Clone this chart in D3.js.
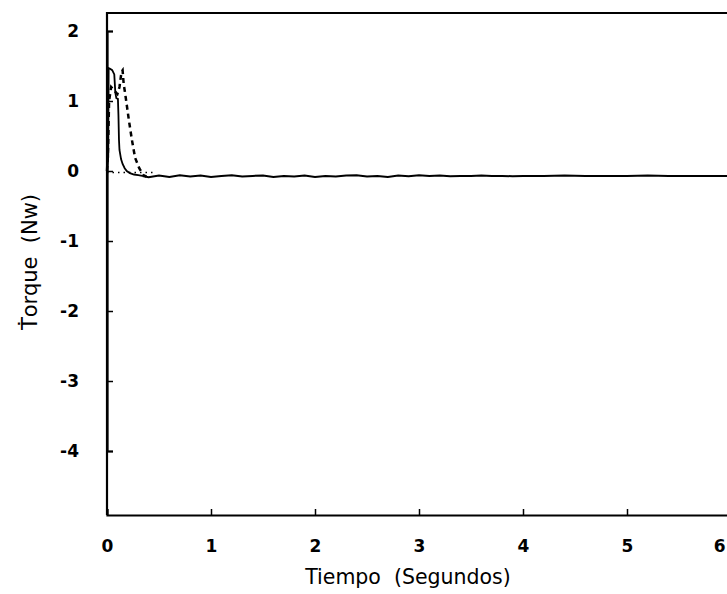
<!DOCTYPE html>
<html><head><meta charset="utf-8">
<script src="https://cdn.jsdelivr.net/npm/d3@7"></script>
<style>body{margin:0;background:#fff}</style>
</head><body>
<svg id="c" width="727" height="594"></svg>
<script>
const xTicks = [0,1,2,3,4,5,6];
const yTicks = [-4,-3,-2,-1,0,1,2];
const xTitle = "Tiempo  (Segundos)";
const yTitle = "Ṫorque  (Nw)";

// solid response (fast)
const solidT = [0,0.012,0.016,0.03,0.05,0.07,0.08,0.09,0.105,0.11,0.115,0.12,0.135,0.15,0.17,0.19,0.22,0.26,0.3,0.34];
const solidV = [0,0.2,1.47,1.46,1.44,1.38,1.12,1.04,1.03,0.8,0.45,0.3,0.17,0.1,0.04,0.0,-0.03,-0.05,-0.06,-0.07];

// dashed response (slower)
const dashT = [0,0.01,0.02,0.04,0.07,0.1,0.12,0.14,0.15,0.16,0.18,0.21,0.24,0.27,0.31,0.35,0.38];
const dashV = [0,0.3,1.0,1.2,1.15,1.1,1.2,1.42,1.44,1.25,1.05,0.73,0.44,0.19,0.04,-0.06,-0.08];

// dotted zero reference
const dotT = [0,0.45];
const dotV = [-0.02,-0.02];

// steady-state noisy trace
const steadyT = [0.34,0.4,0.5,0.6,0.7,0.8,0.9,1.0,1.1,1.2,1.3,1.4,1.5,1.6,1.7,1.8,1.9,2.0,2.1,2.2,2.3,2.4,2.5,2.6,2.7,2.8,2.9,3.0,3.1,3.2,3.3,3.4,3.5,3.6,3.7,3.8,3.9,4.0,4.2,4.4,4.6,4.8,5.0,5.2,5.4,5.6,5.8,6.0];
const steadyV = [-0.07,-0.09,-0.065,-0.085,-0.06,-0.08,-0.065,-0.085,-0.07,-0.06,-0.08,-0.07,-0.065,-0.085,-0.07,-0.08,-0.065,-0.085,-0.07,-0.08,-0.065,-0.06,-0.08,-0.07,-0.085,-0.065,-0.075,-0.06,-0.07,-0.065,-0.075,-0.07,-0.07,-0.065,-0.07,-0.07,-0.075,-0.07,-0.07,-0.065,-0.07,-0.07,-0.07,-0.065,-0.07,-0.07,-0.07,-0.07];

const svg = d3.select("#c");
const x = d3.scaleLinear().domain([0,6]).range([107,731]);
const y = d3.scaleLinear().domain([-4,2]).range([451,31]);
const frameTop = 13, frameBottom = 515;

// frame
svg.append("path")
  .attr("d", `M${x(0)},${frameBottom}L${x(0)},${frameTop}L${x(6)},${frameTop}`)
  .attr("fill","none").attr("stroke","#000").attr("stroke-width",2.2);

const gx = svg.append("g").attr("transform",`translate(0,${frameBottom})`)
  .call(d3.axisBottom(x).tickValues(xTicks).tickSize(-6).tickPadding(25).tickFormat(d3.format("d")));
const gy = svg.append("g").attr("transform",`translate(${x(0)},0)`)
  .call(d3.axisLeft(y).tickValues(yTicks).tickSize(-6).tickPadding(28).tickFormat(d=>d<0?"-"+Math.abs(d):String(d)));
[gx,gy].forEach(g=>{
  g.select(".domain").attr("stroke","#000").attr("stroke-width",2.2);
  g.selectAll(".tick line").attr("stroke","#000").attr("stroke-width",1.5);
  g.selectAll(".tick text").attr("fill","#000")
   .style("font-family","'DejaVu Sans', sans-serif")
   .style("font-weight","bold").style("font-size","17px");
});
// keep the last x label inside the window
gx.selectAll(".tick text").filter(d=>d===6).attr("text-anchor","end").attr("dx","-6");

const line = d3.line().x(d=>x(d[0])).y(d=>y(d[1]));
const zip = (a,b)=>a.map((t,i)=>[t,b[i]]);

svg.append("path").datum(zip(dotT,dotV)).attr("d",line)
  .attr("fill","none").attr("stroke","#000").attr("stroke-width",1.5).attr("stroke-dasharray","1.5,4");
svg.append("path").datum(zip(steadyT,steadyV)).attr("d",line)
  .attr("fill","none").attr("stroke","#000").attr("stroke-width",2);
svg.append("path").datum(zip(solidT,solidV)).attr("d",line)
  .attr("fill","none").attr("stroke","#000").attr("stroke-width",1.8);
svg.append("path").datum(zip(dashT,dashV)).attr("d",line)
  .attr("fill","none").attr("stroke","#000").attr("stroke-width",2.5).attr("stroke-dasharray","5,4");

svg.append("text").attr("x",408).attr("y",584).attr("text-anchor","middle")
  .style("font-family","'DejaVu Sans', sans-serif").style("font-size","20.5px")
  .attr("xml:space","preserve").text(xTitle);
svg.append("text").attr("transform","translate(37,262) rotate(-90)").attr("text-anchor","middle")
  .style("font-family","'DejaVu Sans', sans-serif").style("font-size","21px")
  .attr("xml:space","preserve").text(yTitle);
</script>
</body></html>
